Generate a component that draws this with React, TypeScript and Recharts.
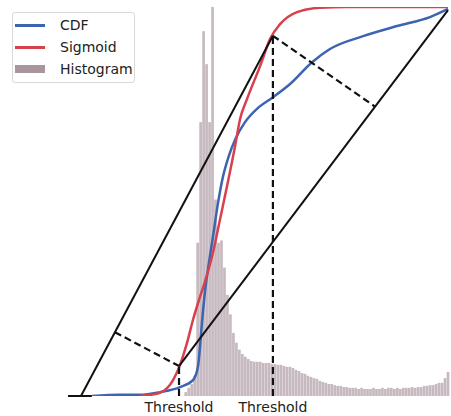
import React from 'react';
import {
  ComposedChart,
  Bar,
  Line,
  XAxis,
  YAxis,
  ReferenceLine,
  Legend,
} from 'recharts';

// histogram: bins of width 2 on a 0..255 intensity axis, heights in % of plot height
const BIN_START = 79;
const BIN_WIDTH = 2;
const histCounts = [
  1.0, 2.1, 3.1, 5.2, 39.4, 70.4, 93.8, 85.3, 70.4, 100, 50.5, 39.4, 40.0, 33.0,
  26.0, 21.0, 16.2, 13.7, 11.9, 10.8, 10.1, 9.5, 9.0, 8.8, 8.8, 8.8, 8.5, 8.5,
  8.5, 8.2, 8.2, 8.0, 8.0, 7.7, 7.5, 7.5, 7.2, 6.7, 6.4, 5.9, 5.7, 5.2, 4.9, 4.6,
  4.4, 3.9, 3.6, 3.4, 3.1, 3.1, 2.8, 2.6, 2.6, 2.3, 2.3, 2.1, 2.1, 2.1, 1.8, 2.1,
  1.8, 1.8, 1.8, 2.1, 1.8, 1.8, 2.1, 1.8, 2.1, 2.1, 1.8, 2.1, 1.8, 2.1, 2.1, 2.1,
  2.3, 2.1, 2.3, 2.3, 2.6, 2.6, 2.8, 2.8, 3.1, 3.4, 3.4, 4.6, 6.2,
];

// cumulative distribution (blue)
const cdfX = [
  16.1, 34.9, 48.3, 61.7, 75.2, 83.9, 87.2, 88.6, 89.9, 91.9, 93.9, 97.3, 100.7,
  104.0, 108.0, 112.5, 118.8, 126.8, 137.6, 149.0, 163.8, 175.8, 198.0, 220.8,
  242.9, 255,
];
const cdfY = [
  0, 0.003, 0.003, 0.01, 0.023, 0.041, 0.075, 0.126, 0.188, 0.268, 0.325, 0.41,
  0.497, 0.564, 0.618, 0.662, 0.704, 0.738, 0.768, 0.802, 0.858, 0.892, 0.925,
  0.951, 0.974, 0.995,
];

// fitted sigmoid (red)
const sigX = [
  48.3, 55.0, 61.7, 70.5, 75.2, 79.9, 83.9, 88.6, 91.9, 97.3, 102.0, 106.7, 112.1,
  115.4, 120.1, 128.9, 135.6, 142.3, 153.7, 169.1, 187.2, 255,
];
const sigY = [
  0, 0.003, 0.008, 0.041, 0.08, 0.137, 0.196, 0.255, 0.294, 0.369, 0.454, 0.539,
  0.642, 0.711, 0.763, 0.848, 0.918, 0.956, 0.987, 0.998, 1.0, 1.0,
];

const thresholds = [74.5, 137.5];

// construction lines
const solidSegments = [
  [{ x: 0, y: 0 }, { x: 16, y: 0 }],
  [{ x: 8.7, y: 0 }, { x: 137.5, y: 0.926 }],
  [{ x: 74.5, y: 0.077 }, { x: 255, y: 0.992 }],
];
const dashedSegments = [
  [{ x: 31.5, y: 0.164 }, { x: 74.5, y: 0.077 }],
  [{ x: 137.5, y: 0.926 }, { x: 206, y: 0.744 }],
  [{ x: 74.5, y: 0 }, { x: 74.5, y: 0.077 }],
  [{ x: 137.5, y: 0 }, { x: 137.5, y: 0.926 }],
];

const legendItems = [
  { label: 'CDF', color: '#3c64b1', kind: 'line' },
  { label: 'Sigmoid', color: '#d8404e', kind: 'line' },
  { label: 'Histogram', color: '#a8969f', kind: 'rect' },
];

const histData = histCounts.map((h, i) => ({ v: BIN_START + i * BIN_WIDTH, hist: h }));
const cdfData = cdfX.map((x, i) => ({ v: x, cdf: cdfY[i] }));
const sigData = sigX.map((x, i) => ({ v: x, sig: sigY[i] }));

// band size gets squeezed by the line points sharing the numeric axis,
// so draw each bin at a fixed width around its centre
const BinShape = (props: any) => {
  const { x, y, width, height, fill } = props;
  if (!height) return null;
  const w = 2.7;
  return (
    <rect x={x + width / 2 - w / 2} y={y} width={w} height={height} fill={fill} fillOpacity={0.75} />
  );
};

const LegendBox = () => (
  <div
    style={{
      background: '#fff',
      border: '1px solid #d9d9d9',
      borderRadius: 3,
      width: 123,
      height: 71,
      boxSizing: 'border-box',
      padding: '1px 0 0 2px',
      fontFamily: 'DejaVu Sans',
      fontSize: 14,
      color: '#222',
    }}
  >
    {legendItems.map((item) => (
      <div key={item.label} style={{ display: 'flex', alignItems: 'center', height: 22 }}>
        <div
          style={{
            width: 30,
            height: item.kind === 'line' ? 3 : 8,
            background: item.color,
            marginRight: 15,
          }}
        />
        <span>{item.label}</span>
      </div>
    ))}
  </div>
);

export default function App() {
  return (
    <div style={{ width: 451, height: 416, background: '#fff' }}>
      <style>{'body{margin:0;background:#fff}'}</style>
      <ComposedChart
        width={451}
        height={416}
        data={histData}
        margin={{ top: 7, right: 3, bottom: 0, left: 68 }}
      >
        <XAxis
          dataKey="v"
          type="number"
          domain={[0, 255]}
          ticks={thresholds}
          interval={0}
          tickFormatter={() => 'Threshold'}
          axisLine={false}
          tickLine={false}
          tickMargin={0}
          height={20}
          tick={{ fill: '#222', fontSize: 14, fontFamily: 'DejaVu Sans' }}
        />
        <YAxis domain={[0, 1]} hide allowDataOverflow />
        <YAxis yAxisId="hist" domain={[0, 100]} hide allowDataOverflow />
        <Bar
          yAxisId="hist"
          dataKey="hist"
          fill="#b3a3ab"
          shape={BinShape}
          isAnimationActive={false}
        />
        <Line
          data={cdfData}
          type="monotone"
          dataKey="cdf"
          stroke="#3c64b1"
          strokeWidth={2.5}
          dot={false}
          isAnimationActive={false}
        />
        <Line
          data={sigData}
          type="monotone"
          dataKey="sig"
          stroke="#d8404e"
          strokeWidth={2.5}
          dot={false}
          isAnimationActive={false}
        />
        {solidSegments.map((seg, i) => (
          <ReferenceLine key={`s${i}`} segment={seg} stroke="#111" strokeWidth={2} />
        ))}
        {dashedSegments.map((seg, i) => (
          <ReferenceLine
            key={`d${i}`}
            segment={seg}
            stroke="#111"
            strokeWidth={2.2}
            strokeDasharray="7 4"
          />
        ))}
        <Legend
          content={<LegendBox />}
          layout="vertical"
          align="center"
          verticalAlign="middle"
          wrapperStyle={{ left: 12, top: 12, width: 'auto', height: 'auto' }}
        />
      </ComposedChart>
    </div>
  );
}
